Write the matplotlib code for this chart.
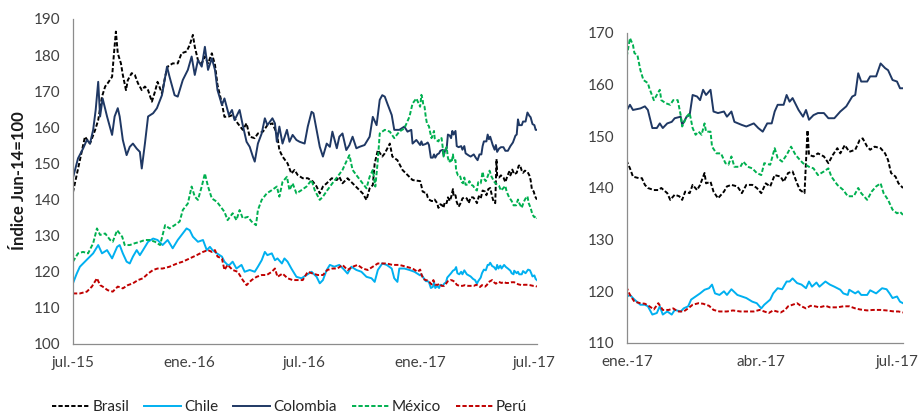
import matplotlib
matplotlib.use("Agg")
import matplotlib.pyplot as plt
import pandas as pd
from matplotlib.lines import Line2D

plt.rcParams.update({
    "font.family": ["Lato", "DejaVu Sans"], "font.size": 11,
    "axes.edgecolor": "#8c8c8c", "axes.linewidth": 0.9,
    "xtick.color": "#404040", "ytick.color": "#404040",
})

# days since 2015-07-01 (jul.-15 .. dic.-16)
START_HIST = pd.Timestamp("2015-07-01")
# days since 2017-01-01
START_YTD = pd.Timestamp("2017-01-01")

brasil_d = [0, 11, 19, 27, 35, 40, 46, 51, 55, 62, 65, 68, 71, 76, 79, 84, 87, 93, 98, 103,
            109, 114, 119, 125, 130, 134, 141, 146, 150, 158, 166, 172, 180, 185, 190, 193, 198, 204, 209, 214,
            220, 225, 229, 236, 240, 247, 253, 261, 269, 275, 280, 288, 293, 301, 308, 316, 323, 327, 332, 340,
            346, 351, 356, 364, 372, 380, 386, 391, 396, 402, 410, 418, 422, 427, 435, 443, 451, 459, 465, 470,
            475, 478, 483, 490, 494, 502, 506, 514, 522, 530, 538]
brasil_v = [142, 151, 157.4, 155.5, 159.2, 162, 168.5, 171.3, 172.2, 174, 180.5, 186.5, 180.5, 177.7, 174.5, 170.3, 173.1, 175, 174.5, 172.2,
            170.3, 171.3, 170.3, 167.1, 169.9, 172.6, 169.4, 174, 176.8, 177.7, 177.7, 180.5, 181, 182.8, 185.6, 182.3, 178.6, 177.7, 179.6, 177.7,
            180.5, 177.3, 171.7, 166.6, 162.9, 163, 163.4, 161.1, 159.3, 161.1, 157.4, 157, 158.3, 158.8, 160.6, 161.1, 158.3, 153.7, 151.9, 150,
            147.2, 148.2, 146.8, 145.9, 145.9, 145, 143.6, 141.7, 143.6, 144.5, 145.9, 145.4, 146.3, 144.5, 145.9, 144.5, 143.1, 141.7, 139.9, 143.1,
            144, 150, 153.7, 151.9, 152.8, 155.5, 151.9, 150.9, 148.2, 146.8, 145.4]
brasil17_d = [0, 2, 4, 8, 10, 12, 14, 18, 21, 23, 27, 29, 32, 35, 37, 39, 42, 44, 47, 49,
              52, 53, 56, 58, 61, 65, 67, 70, 74, 77, 80, 84, 87, 90, 93, 96, 99, 103, 105, 108,
              111, 114, 116, 119, 121, 122, 125, 128, 132, 135, 138, 141, 143, 146, 149, 153, 156, 158, 161, 163,
              166, 170, 173, 175, 177, 180, 182, 185]
brasil17_v = [145.1, 143.8, 142.2, 141.9, 141.9, 140.6, 140, 139.6, 139.6, 140, 139, 137.7, 138.7, 138.4, 137.7, 139.3, 139, 140.6, 139.6, 140.6,
              142.9, 140.9, 141.2, 139.3, 138, 139.3, 140.3, 140.6, 140.3, 139, 140.6, 140.6, 140, 139, 140.9, 140.3, 142.5, 142.2, 141.2, 142.9,
              143.2, 140.9, 139.6, 139, 151.2, 146.4, 146.1, 146.7, 146.1, 144.8, 146.4, 147.7, 146.7, 148.3, 147, 147.4, 149.3, 149.6, 148, 147.4,
              148, 147.7, 146.7, 145.4, 142.9, 142.2, 140.9, 140]

chile_d = [0, 6, 11, 16, 24, 32, 40, 46, 54, 62, 70, 74, 79, 85, 90, 95, 101, 106, 111, 119,
           127, 134, 142, 150, 158, 166, 174, 180, 185, 190, 198, 206, 212, 217, 221, 228, 236, 240, 245, 248,
           253, 259, 267, 272, 280, 288, 293, 299, 304, 308, 315, 320, 324, 331, 335, 340, 346, 354, 362, 370,
           378, 386, 391, 396, 402, 407, 414, 422, 430, 435, 441, 449, 457, 465, 473, 478, 483, 490, 497, 505,
           509, 514, 517, 525, 533, 541]
chile_v = [116.8, 119.5, 121.4, 122.3, 123.7, 125.1, 127.4, 125.1, 126, 123.7, 126.9, 127.4, 125.1, 122.8, 122.3, 124.2, 126, 124.6, 126, 128.3,
           129.2, 128.8, 127.4, 128.8, 126.5, 128.8, 130.6, 132, 131.5, 129.7, 128.3, 128.8, 126, 126.9, 126, 125.1, 124.2, 122.8, 121.9, 121.9,
           122.8, 120.9, 121.9, 120, 120.5, 120, 121.4, 123.2, 125.5, 124.6, 125.1, 123.2, 123.7, 122.3, 123.7, 122.8, 120.9, 118.6, 118.2, 119.1,
           120, 118.6, 116.8, 117.7, 120.5, 121.9, 121.4, 121.9, 120.5, 119.5, 121.4, 120.5, 120, 118.6, 118.2, 117.2, 120.5, 122.3, 121.9, 120.9,
           118.2, 117.2, 120.9, 120.9, 120.5, 120]
chile17_d = [0, 2, 5, 9, 12, 14, 17, 20, 22, 24, 27, 30, 32, 36, 38, 41, 43, 46, 49, 52,
             55, 57, 59, 62, 65, 67, 70, 74, 77, 80, 84, 87, 90, 92, 96, 98, 101, 104, 107, 109,
             111, 114, 117, 120, 122, 124, 127, 129, 133, 136, 139, 143, 145, 148, 149, 153, 155, 157, 161, 163,
             167, 171, 174, 176, 178, 181, 183, 185]
chile17_v = [119, 119.3, 118.4, 117.4, 117.4, 117.1, 115.5, 115.8, 117.1, 115.5, 116.1, 115.5, 116.4, 116.1, 116.7, 117.1, 118.4, 119, 119.6, 120.3,
             120.6, 121.3, 119.6, 119.3, 120, 119.3, 120.4, 119.3, 119, 118.7, 118, 117.7, 116.7, 117.4, 118.4, 119.6, 120.6, 120.4, 121.9, 121.9,
             122.5, 121.6, 121.3, 120.6, 121.9, 120.9, 121.7, 120.9, 121.9, 121.3, 120.9, 120.3, 119.6, 119.3, 120.3, 119.6, 120, 119.3, 119.3, 120.2,
             119.6, 120.6, 120.4, 119.6, 118.7, 119, 118, 117.7]

colombia_d = [0, 8, 16, 22, 27, 32, 36, 40, 43, 47, 54, 62, 66, 71, 74, 79, 85, 90, 95, 101,
              106, 109, 114, 119, 127, 133, 141, 149, 153, 161, 166, 174, 182, 188, 193, 198, 204, 209, 214, 220,
              225, 229, 236, 240, 247, 252, 256, 264, 269, 275, 280, 285, 288, 293, 299, 304, 308, 316, 320, 323,
              327, 332, 339, 343, 348, 354, 359, 367, 372, 378, 381, 386, 391, 396, 402, 407, 411, 418, 422, 427,
              433, 438, 443, 449, 454, 462, 470, 475, 481, 486, 490, 494, 498, 505, 509, 517, 525, 530, 536, 538, 544]
colombia_v = [146, 151.4, 154.1, 156.5, 155.5, 159.3, 164.8, 172.6, 163, 168, 163, 157.9, 163, 165.3, 163, 156.5, 152.3, 154.6, 155.5, 154.1,
              153.2, 148.6, 155.5, 163, 163.9, 165.3, 168.9, 176.8, 174, 168.9, 168.5, 173.1, 175.9, 179.6, 174.5, 178.6, 176.8, 182.3, 175.9, 179.1,
              175.9, 170.3, 166.2, 168, 163.4, 164.8, 162, 164.8, 160.6, 156, 154.6, 151.9, 150.5, 155.5, 158.3, 162.5, 160.6, 162.5, 161.1, 156,
              160.2, 155.5, 159.3, 156, 157.9, 156.5, 156, 155.5, 160.2, 164.3, 163.9, 159.3, 154.6, 151.9, 155.5, 154.6, 158.8, 154.2, 157.4, 158.3,
              153.7, 155.1, 157.4, 154.2, 154.6, 155.1, 157.4, 162.9, 160.6, 167.6, 168.9, 168.5, 166.6, 163.4, 159.3, 159.3, 160.2, 158.8, 159.3, 155.5, 156.5]
colombia17_d = [0, 2, 4, 9, 12, 14, 17, 20, 22, 24, 27, 30, 32, 36, 37, 40, 42, 44, 47, 49,
                51, 53, 56, 58, 61, 65, 67, 70, 72, 77, 80, 85, 88, 91, 94, 97, 99, 101, 105, 107,
                109, 111, 115, 118, 120, 122, 125, 128, 132, 135, 139, 143, 147, 151, 153, 155, 157, 161, 163, 167,
                170, 173, 175, 178, 181, 183, 185]
colombia17_v = [155.1, 156.1, 155.1, 155.4, 155.8, 155.1, 151.6, 151.6, 152.5, 151.6, 152.5, 152.8, 153.5, 153.8, 152.2, 153.8, 154.1, 158, 157.7, 157,
                159, 158, 159, 154.8, 154.5, 154.8, 153.8, 154.8, 152.8, 152.2, 151.9, 152.5, 151.6, 150.9, 152.5, 152.5, 154.8, 156.1, 156.1, 158,
                156.7, 157.4, 155.1, 153.8, 155.1, 153.2, 154.1, 154.5, 154.5, 153.5, 153.5, 154.8, 155.8, 157.7, 158, 162.2, 160.6, 160.6, 161.6, 161.6,
                164.1, 163.2, 162.8, 160.9, 160.6, 159.3, 159.3]

mexico_d = [0, 8, 16, 24, 32, 38, 43, 51, 59, 63, 70, 78, 82, 90, 98, 106, 114, 122, 130, 138,
            146, 153, 161, 169, 174, 182, 188, 193, 198, 204, 209, 214, 220, 228, 236, 240, 245, 253, 259, 264,
            269, 277, 283, 290, 293, 299, 307, 315, 323, 327, 332, 339, 343, 348, 354, 362, 370, 378, 383, 391,
            396, 403, 411, 419, 427, 433, 438, 443, 451, 459, 465, 470, 475, 479, 483, 486, 494, 502, 509, 517,
            525, 533, 538, 544]
mexico_v = [122.8, 125.1, 125.5, 125.1, 127.9, 132, 130.2, 130.6, 128.8, 128.3, 131.5, 129.7, 127.4, 127.4, 127.9, 128.3, 128.8, 128.8, 128.3, 127.4,
            132.9, 132, 132.9, 133.9, 137.1, 138.9, 143.6, 140.8, 139.9, 143.6, 147.2, 143.6, 140.3, 139.4, 137.5, 136.6, 134.3, 136.2, 134.3, 137.1,
            134.8, 135.2, 133.9, 132.9, 137.1, 139.9, 141.7, 142.6, 143.6, 140.8, 144.9, 146.3, 142.6, 144.5, 141.7, 142.6, 143.6, 145.4, 142.6, 139.9,
            140.8, 142.6, 144.5, 146.3, 148.2, 150.5, 152.3, 148.2, 146.3, 144.5, 143.1, 146.3, 148.2, 143.6, 150.9, 158.3, 159.3, 158.8, 157, 158.8,
            159.7, 162.9, 166.6, 168]
mexico17_d = [0, 1, 2, 4, 5, 7, 9, 11, 14, 15, 18, 20, 22, 23, 26, 29, 31, 34, 36, 37,
              40, 42, 44, 46, 48, 50, 52, 53, 56, 57, 60, 63, 66, 68, 70, 72, 76, 78, 81, 84,
              87, 90, 92, 96, 99, 101, 104, 107, 110, 113, 116, 118, 122, 125, 128, 132, 135, 137, 141, 145,
              148, 152, 155, 157, 161, 164, 167, 170, 172, 175, 178, 181, 183, 185]
mexico17_v = [165.7, 167.4, 169, 167.7, 166.1, 165.7, 162.8, 160.9, 160.3, 159.3, 157, 158, 159, 157, 156.4, 156.1, 157, 157, 154.1, 151.9,
              153.8, 154.5, 151.6, 150.3, 150.9, 150.3, 152.5, 150.9, 150.9, 148, 146.7, 146.7, 144.8, 144.5, 146.1, 144.1, 144.1, 145.1, 144.1, 143.8,
              142.9, 142.5, 144.8, 144.5, 147.7, 145.8, 145.1, 146.4, 148, 146.4, 145.4, 144.8, 144.1, 143.8, 142.5, 143.2, 143.8, 142.2, 140.6, 139.6,
              138.4, 138.4, 140, 139, 137.7, 139.3, 140.3, 140.9, 139, 137.7, 135.8, 135.1, 135.4, 134.8]

peru_d = [0, 11, 22, 30, 38, 43, 47, 55, 63, 71, 79, 87, 95, 103, 111, 119, 127, 134, 142, 153,
          165, 174, 185, 196, 206, 214, 220, 225, 229, 236, 240, 245, 253, 261, 269, 275, 283, 291, 299, 307,
          315, 320, 324, 332, 340, 348, 356, 364, 372, 380, 388, 396, 403, 411, 419, 427, 435, 443, 451, 459,
          467, 475, 483, 490, 497, 506, 517, 528, 538, 546]
peru_v = [114, 114, 114.5, 115.9, 118.2, 116.3, 115.9, 114.9, 114.5, 115.9, 115.4, 116.3, 116.8, 117.7, 118.2, 119.5, 120.5, 120.9, 120.9, 121.4,
          122.3, 122.8, 123.7, 124.6, 125.5, 126, 125.5, 126, 124.2, 123.7, 120.5, 121.9, 120.5, 120, 117.7, 116.3, 117.7, 118.6, 119.1, 119.1,
          120, 120.9, 118.6, 119.5, 118.2, 117.7, 117.7, 117.7, 120, 119.5, 119.1, 119.1, 120.5, 120.9, 120.9, 121.9, 120.5, 121.4, 121.9, 120.9,
          120.5, 121.4, 122.3, 122.3, 122.3, 121.9, 121.9, 121.4, 120.9, 120]
peru17_d = [0, 2, 5, 9, 12, 15, 18, 21, 24, 28, 31, 34, 38, 41, 44, 48, 51, 55, 58, 62,
            67, 71, 76, 80, 85, 89, 92, 95, 98, 103, 106, 108, 111, 114, 117, 120, 123, 126, 129, 133,
            136, 141, 145, 149, 153, 156, 161, 165, 170, 174, 179, 182, 185]
peru17_v = [120.6, 119.3, 118, 117.7, 117.6, 117.1, 116.5, 117.7, 116.4, 116.4, 116.7, 116.1, 116.1, 116.7, 117.4, 117.7, 117.6, 117.2, 116.4, 116.1,
            116.1, 116.3, 116.1, 116.1, 116.1, 116.4, 116.1, 115.8, 116.3, 115.9, 116.4, 117.1, 117.4, 117.7, 117.1, 116.7, 117.2, 117.1, 116.9, 117.2,
            116.9, 116.9, 117.1, 117.1, 116.7, 116.5, 116.3, 116.4, 116.4, 116.3, 116.1, 116.1, 115.9]

left_ticks = ["2015-07-01", "2016-01-01", "2016-07-01", "2017-01-01", "2017-07-01"]
left_labels = ["jul.-15", "ene.-16", "jul.-16", "ene.-17", "jul.-17"]
right_ticks = ["2017-01-01", "2017-04-01", "2017-07-01"]
right_labels = ["ene.-17", "abr.-17", "jul.-17"]
END = pd.Timestamp("2017-07-05")


def build(d_hist, v_hist, d_ytd, v_ytd):
    idx = list(START_HIST + pd.to_timedelta(d_hist, unit="D")) + list(START_YTD + pd.to_timedelta(d_ytd, unit="D"))
    return pd.Series(v_hist + v_ytd, index=pd.DatetimeIndex(idx))


DASH = (0, (2.2, 1.1))
LW = 1.4
series = [
    ("Brasil", build(brasil_d, brasil_v, brasil17_d, brasil17_v), "#000000", DASH),
    ("Chile", build(chile_d, chile_v, chile17_d, chile17_v), "#00B0F0", "-"),
    ("Colombia", build(colombia_d, colombia_v, colombia17_d, colombia17_v), "#1F3864", "-"),
    ("México", build(mexico_d, mexico_v, mexico17_d, mexico17_v), "#00B050", DASH),
    ("Perú", build(peru_d, peru_v, peru17_d, peru17_v), "#C00000", DASH),
]

fig = plt.figure(figsize=(9.2, 4.19), dpi=100)
ax1 = fig.add_axes([0.0793, 0.179, 0.5043, 0.7757])
ax2 = fig.add_axes([0.6815, 0.1814, 0.30, 0.7399])

for name, s, col, ls in series:
    ax1.plot(s.index, s.values, color=col, ls=ls, lw=LW)
    ax2.plot(s.index, s.values, color=col, ls=ls, lw=LW)

ax1.set_xlim(START_HIST, END)
ax1.set_ylim(100, 190)
ax1.set_yticks(range(100, 191, 10))
ax1.set_xticks(pd.to_datetime(left_ticks))
ax1.set_xticklabels(left_labels)

ax2.set_xlim(START_YTD, END)
ax2.set_ylim(110, 170)
ax2.set_yticks(range(110, 171, 10))
ax2.set_xticks(pd.to_datetime(right_ticks))
ax2.set_xticklabels(right_labels)

for ax in (ax1, ax2):
    for s in ("top", "right"):
        ax.spines[s].set_visible(False)
    ax.tick_params(length=0, pad=9, labelsize=11)

fig.text(0.021, 0.57, "Índice Jun-14=100", rotation=90, ha="center", va="center",
         fontsize=12, fontweight="bold", color="#1a1a1a")

handles = [Line2D([0], [0], color=col, ls=ls, lw=LW) for _, _, col, ls in series]
fig.legend(handles, [n for n, _, _, _ in series], loc="center", bbox_to_anchor=(0.315, 0.028),
           ncol=5, frameon=False, handlelength=2.4, handletextpad=0.2, columnspacing=1.0,
           fontsize=11, labelcolor="#262626")

fig.savefig("out.png", dpi=100, facecolor="white")
